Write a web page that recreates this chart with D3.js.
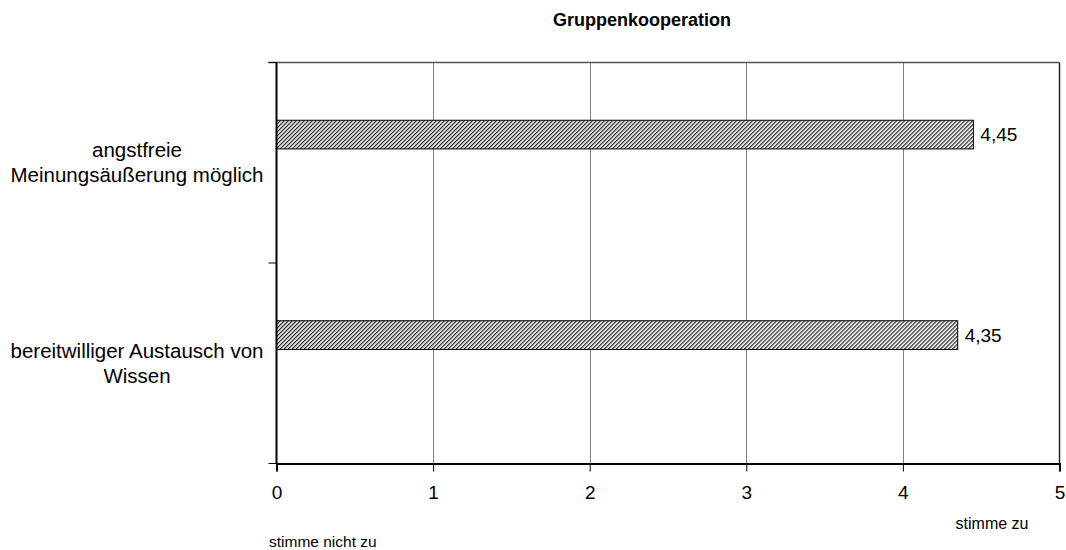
<!DOCTYPE html>
<html>
<head>
<meta charset="utf-8">
<script src="https://cdn.jsdelivr.net/npm/d3@7/dist/d3.min.js"></script>
<style>
  html, body { margin: 0; padding: 0; background: #fff; }
  svg { display: block; font-family: "Liberation Sans", Arial, sans-serif; }
</style>
</head>
<body>
<svg id="chart" width="1066" height="550"></svg>
<script>
// Chart data
const title = "Gruppenkooperation";
const categories = [
  ["angstfreie", "Meinungsäußerung möglich"],
  ["bereitwilliger Austausch von", "Wissen"]
];
const values = [4.45, 4.35];
const tickValues = [0, 1, 2, 3, 4, 5];
const scaleMinLabel = "stimme nicht zu";
const scaleMaxLabel = "stimme zu";

const svg = d3.select("#chart");
const plot = { left: 276.5, right: 1059.5, top: 62.5, bottom: 463.5 };

// Fine diagonal hatch for the bars
const defs = svg.append("defs");
const pat = defs.append("pattern")
  .attr("id", "hatch")
  .attr("patternUnits", "userSpaceOnUse")
  .attr("width", 2.83).attr("height", 2.83)
  .attr("patternTransform", "rotate(45)");
pat.append("rect").attr("width", 2.83).attr("height", 2.83).attr("fill", "#fff");
pat.append("rect").attr("width", 1.2).attr("height", 2.83).attr("fill", "#222");

const x = d3.scaleLinear().domain([0, 5]).range([plot.left, plot.right]);
const keys = categories.map(c => c.join(" "));
const y = d3.scaleBand().domain(keys).range([plot.top, plot.bottom]).paddingInner(0).paddingOuter(0);

// Vertical gridlines
svg.append("g").selectAll("line")
  .data(tickValues.filter(v => v > 0 && v < 5))
  .join("line")
  .attr("x1", d => Math.round(x(d)) + 0.5).attr("x2", d => Math.round(x(d)) + 0.5)
  .attr("y1", plot.top).attr("y2", plot.bottom)
  .attr("stroke", "#808080").attr("stroke-width", 1);

// Plot frame (top and right)
svg.append("line")
  .attr("x1", plot.left - 8).attr("x2", plot.right)
  .attr("y1", plot.top).attr("y2", plot.top)
  .attr("stroke", "#555").attr("stroke-width", 1.5);
svg.append("line")
  .attr("x1", plot.right).attr("x2", plot.right)
  .attr("y1", plot.top).attr("y2", plot.bottom)
  .attr("stroke", "#222").attr("stroke-width", 1.5);

// Bars
const barOffset = y.bandwidth() * 0.288;
const barH = y.bandwidth() * 0.143;
svg.append("g").selectAll("rect")
  .data(values)
  .join("rect")
  .attr("x", x(0))
  .attr("y", (d, i) => y(keys[i]) + barOffset)
  .attr("width", d => x(d) - x(0))
  .attr("height", barH)
  .attr("fill", "url(#hatch)")
  .attr("stroke", "#000").attr("stroke-width", 1);

// Value labels
svg.append("g").selectAll("text")
  .data(values)
  .join("text")
  .attr("x", d => x(d) + 7)
  .attr("y", (d, i) => y(keys[i]) + barOffset + barH / 2)
  .attr("dy", "0.36em")
  .attr("font-size", 19)
  .attr("fill", "#000")
  .text(d => d.toFixed(2).replace(".", ","));

// Category axis (left)
const yAxis = svg.append("g");
yAxis.append("line")
  .attr("x1", plot.left).attr("x2", plot.left)
  .attr("y1", plot.top).attr("y2", plot.bottom)
  .attr("stroke", "#000").attr("stroke-width", 2);
yAxis.selectAll("line.tick")
  .data([plot.top, ...keys.map(k => y(k) + y.bandwidth())])
  .join("line").attr("class", "tick")
  .attr("x1", plot.left - 8).attr("x2", plot.left)
  .attr("y1", d => d).attr("y2", d => d)
  .attr("stroke", "#000").attr("stroke-width", 1);
const catLabels = yAxis.selectAll("text")
  .data(categories)
  .join("text")
  .attr("x", 137)
  .attr("y", (d, i) => y(keys[i]) + y.bandwidth() / 2)
  .attr("text-anchor", "middle")
  .attr("font-size", 20.5)
  .attr("fill", "#000");
catLabels.each(function(lines) {
  const t = d3.select(this);
  lines.forEach((ln, j) => {
    t.append("tspan")
      .attr("x", 137)
      .attr("dy", j === 0 ? (-(lines.length - 1) / 2 * 25 + 7) + "px" : "25px")
      .text(ln);
  });
});

// Value axis (bottom)
const xAxis = svg.append("g")
  .attr("transform", `translate(0,${plot.bottom})`)
  .call(d3.axisBottom(x).tickValues(tickValues).tickSize(8).tickPadding(14)
    .tickFormat(d3.format("d")));
xAxis.select(".domain").attr("stroke", "#000").attr("stroke-width", 2);
xAxis.selectAll(".tick line").attr("stroke", "#000");
xAxis.selectAll(".tick text")
  .attr("font-size", 19)
  .attr("font-family", "Liberation Sans, Arial, sans-serif")
  .attr("fill", "#000");

// Scale end descriptions
svg.append("text")
  .attr("x", 269).attr("y", 547)
  .attr("font-size", 15.5)
  .text(scaleMinLabel);
svg.append("text")
  .attr("x", 992).attr("y", 529)
  .attr("text-anchor", "middle")
  .attr("font-size", 16)
  .text(scaleMaxLabel);

// Title
svg.append("text")
  .attr("x", 642).attr("y", 26)
  .attr("text-anchor", "middle")
  .attr("font-size", 18)
  .attr("font-weight", "bold")
  .text(title);
</script>
</body>
</html>
